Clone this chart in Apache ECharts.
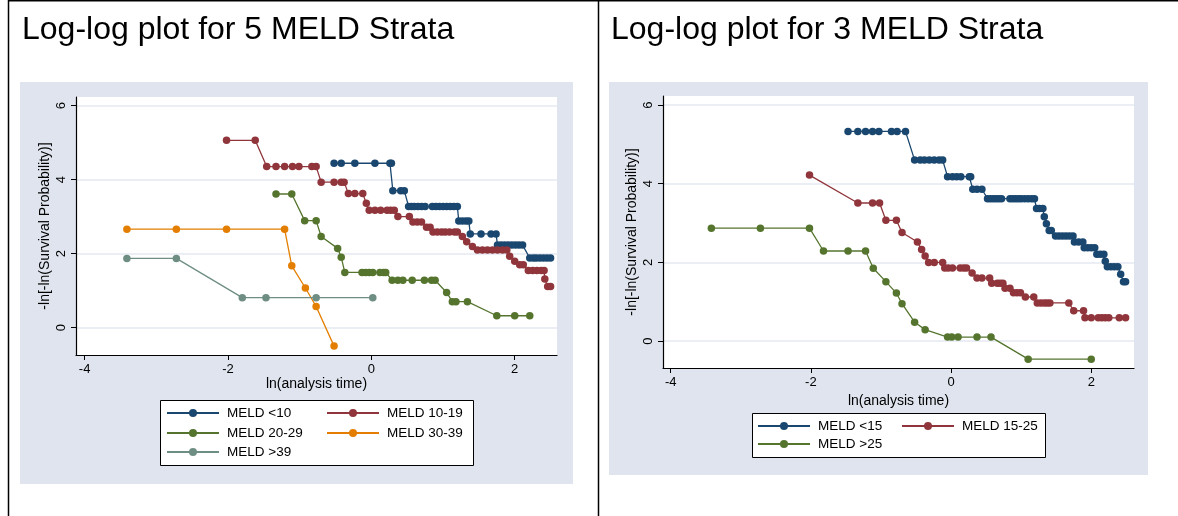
<!DOCTYPE html>
<html>
<head>
<meta charset="utf-8">
<script src="https://cdn.jsdelivr.net/npm/echarts@6/dist/echarts.min.js"></script>
<style>
html,body{margin:0;padding:0;background:#fff;}
#chart{width:1178px;height:516px;}
</style>
</head>
<body>
<div id="chart"></div>
<script>
// ---------- data ----------
const titles = ["Log-log plot for 5 MELD Strata", "Log-log plot for 3 MELD Strata"];
const xAxisName = "ln(analysis time)";
const yAxisName = "-ln[-ln(Survival Probability)]";
const xTicks = [-4, -2, 0, 2];
const yTicks = [0, 2, 4, 6];

const leftNames = ["MELD <10", "MELD 10-19", "MELD 20-29", "MELD 30-39", "MELD >39"];
const rightNames = ["MELD <15", "MELD 15-25", "MELD >25"];

// Left panel: [ln(t), -ln(-ln S)]
const left_lt10 = [[-0.52,4.44],[-0.42,4.44],[-0.23,4.44],[0.05,4.44],[0.26,4.44],[0.28,4.44],
  [0.30,3.70],[0.41,3.70],[0.46,3.70],
  [0.52,3.27],[0.56,3.27],[0.60,3.27],[0.65,3.27],[0.70,3.27],[0.75,3.27],[0.85,3.27],[0.90,3.27],[0.95,3.27],[1.00,3.27],[1.05,3.27],[1.10,3.27],[1.15,3.27],[1.20,3.27],
  [1.22,2.88],[1.27,2.88],[1.32,2.88],[1.36,2.88],
  [1.38,2.53],[1.53,2.53],[1.67,2.53],[1.74,2.53],
  [1.76,2.23],[1.81,2.23],[1.86,2.23],[1.91,2.23],[1.96,2.23],[2.01,2.23],[2.06,2.23],[2.11,2.23],
  [2.21,1.88],[2.26,1.88],[2.30,1.88],[2.35,1.88],[2.40,1.88],[2.45,1.88],[2.50,1.88]];
const left_10_19 = [[-2.02,5.06],[-1.62,5.06],
  [-1.46,4.35],[-1.33,4.35],[-1.21,4.35],[-1.10,4.35],[-1.01,4.35],[-0.83,4.35],[-0.77,4.35],
  [-0.70,3.93],[-0.52,3.93],[-0.42,3.93],[-0.38,3.93],
  [-0.32,3.62],[-0.23,3.62],[-0.12,3.62],
  [-0.07,3.36],
  [-0.03,3.17],[0.05,3.17],[0.13,3.17],[0.22,3.17],[0.27,3.17],[0.32,3.17],
  [0.37,3.00],[0.53,3.00],
  [0.58,2.85],[0.64,2.85],[0.70,2.85],
  [0.77,2.71],[0.82,2.71],
  [0.86,2.58],[0.92,2.58],[0.98,2.58],[1.03,2.58],[1.09,2.58],[1.16,2.58],[1.20,2.58],
  [1.27,2.46],[1.33,2.32],[1.41,2.19],
  [1.48,2.10],[1.55,2.10],[1.62,2.10],[1.69,2.10],[1.76,2.10],[1.83,2.10],[1.89,2.10],
  [1.93,1.93],[2.00,1.79],[2.07,1.70],[2.12,1.70],
  [2.19,1.54],[2.25,1.54],[2.31,1.54],[2.37,1.54],[2.41,1.54],
  [2.42,1.31],[2.46,1.11],[2.50,1.11]];
const left_20_29 = [[-1.33,3.61],[-1.11,3.61],[-0.93,2.89],[-0.77,2.89],[-0.70,2.46],[-0.47,2.14],[-0.42,1.90],[-0.37,1.49],
  [-0.13,1.49],[-0.08,1.49],[-0.03,1.49],[0.02,1.49],[0.12,1.49],[0.17,1.49],[0.20,1.49],
  [0.29,1.28],[0.37,1.28],[0.44,1.28],[0.57,1.28],[0.74,1.28],[0.84,1.28],[0.89,1.28],
  [1.05,0.95],[1.13,0.70],[1.18,0.70],[1.34,0.70],[1.75,0.32],[2.00,0.32],[2.21,0.32]];
const left_30_39 = [[-3.41,2.66],[-2.72,2.66],[-2.02,2.66],[-1.21,2.66],[-1.11,1.67],[-0.92,1.07],[-0.77,0.57],[-0.52,-0.50]];
const left_gt39 = [[-3.41,1.87],[-2.72,1.87],[-1.80,0.81],[-1.47,0.81],[-0.77,0.81],[0.02,0.81]];

// Right panel
const right_lt15 = [[-1.47,5.33],[-1.33,5.33],[-1.22,5.33],[-1.12,5.33],[-1.03,5.33],[-0.85,5.33],[-0.77,5.33],[-0.65,5.33],
  [-0.52,4.60],[-0.44,4.60],[-0.38,4.60],[-0.31,4.60],[-0.24,4.60],[-0.17,4.60],[-0.12,4.60],
  [-0.05,4.18],[0.02,4.18],[0.08,4.18],[0.14,4.18],[0.26,4.18],[0.28,4.18],
  [0.31,3.86],[0.37,3.86],[0.44,3.86],
  [0.52,3.62],[0.56,3.62],[0.60,3.62],[0.64,3.62],[0.68,3.62],[0.72,3.62],[0.84,3.62],[0.88,3.62],[0.92,3.62],[0.96,3.62],[1.00,3.62],[1.05,3.62],[1.10,3.62],[1.15,3.62],[1.19,3.62],
  [1.22,3.37],[1.26,3.37],[1.31,3.37],
  [1.33,3.16],[1.36,2.98],[1.40,2.81],[1.43,2.81],
  [1.49,2.67],[1.54,2.67],[1.59,2.67],[1.64,2.67],[1.69,2.67],[1.74,2.67],
  [1.76,2.52],[1.82,2.52],[1.88,2.52],
  [1.90,2.37],[1.95,2.37],[2.00,2.37],[2.05,2.37],
  [2.08,2.21],[2.13,2.21],[2.18,2.21],
  [2.20,2.03],
  [2.23,1.89],[2.28,1.89],[2.33,1.89],[2.38,1.89],
  [2.42,1.70],[2.46,1.51],[2.49,1.51]];
const right_15_25 = [[-2.02,4.22],[-1.33,3.51],[-1.12,3.51],[-1.02,3.51],[-0.93,3.07],[-0.78,3.07],[-0.70,2.76],[-0.48,2.52],[-0.42,2.33],[-0.37,2.16],
  [-0.32,2.00],[-0.24,2.00],[-0.12,2.00],[-0.09,1.86],[-0.04,1.86],[0.02,1.86],[0.13,1.86],[0.18,1.86],[0.22,1.86],
  [0.30,1.73],[0.37,1.60],[0.44,1.60],[0.55,1.60],[0.58,1.47],[0.66,1.47],[0.70,1.47],[0.74,1.47],
  [0.77,1.34],[0.84,1.34],[0.89,1.23],[0.94,1.23],[0.99,1.23],[1.06,1.12],[1.18,1.12],
  [1.23,0.97],[1.28,0.97],[1.33,0.97],[1.37,0.97],[1.41,0.97],[1.68,0.97],
  [1.75,0.77],[1.89,0.77],[1.91,0.59],[2.00,0.59],[2.10,0.59],[2.15,0.59],[2.20,0.59],[2.25,0.59],[2.40,0.59],[2.49,0.59]];
const right_gt25 = [[-3.42,2.87],[-2.72,2.87],[-2.02,2.87],[-1.82,2.29],[-1.47,2.29],[-1.22,2.29],[-1.11,1.85],[-0.93,1.51],[-0.78,1.22],[-0.70,0.95],
  [-0.52,0.48],[-0.37,0.29],[-0.05,0.10],[0.01,0.10],[0.10,0.10],[0.37,0.10],[0.57,0.10],[1.10,-0.46],[2.00,-0.46]];

const leftData = [left_lt10, left_10_19, left_20_29, left_30_39, left_gt39];
const rightData = [right_lt15, right_15_25, right_gt25];
const leftColors = ["#1a476f", "#90353b", "#55752f", "#e37e00", "#6e8e84"];
const rightColors = ["#1a476f", "#90353b", "#55752f"];

// ---------- chart ----------
const FONT = "'Liberation Sans', Arial, Helvetica, sans-serif";
const chart = echarts.init(document.getElementById('chart'), null, {renderer: 'canvas'});

function xAxisCfg(gridIndex, min, max) {
  return {
    type: 'value', gridIndex, min, max, position: 'bottom',
    name: xAxisName, nameLocation: 'middle', nameGap: 22,
    nameTextStyle: {color: '#000', fontSize: 14, fontFamily: FONT},
    axisLine: {show: true, onZero: false, lineStyle: {color: '#000', width: 1.2}},
    axisTick: {show: true, length: 5, customValues: xTicks, lineStyle: {color: '#000', width: 1}},
    axisLabel: {customValues: xTicks, color: '#000', fontSize: 13, fontFamily: FONT, margin: 8},
    splitLine: {show: false}
  };
}
function yAxisCfg(gridIndex, min, max) {
  return {
    type: 'value', gridIndex, min, max, position: 'left',
    name: yAxisName, nameLocation: 'middle', nameGap: 24, nameRotate: 90,
    nameTextStyle: {color: '#000', fontSize: 14, fontFamily: FONT},
    axisLine: {show: true, onZero: false, lineStyle: {color: '#000', width: 1.2}},
    axisTick: {show: true, length: 5, customValues: yTicks, lineStyle: {color: '#000', width: 1}},
    axisLabel: {customValues: yTicks, rotate: 90, color: '#000', fontSize: 13, fontFamily: FONT, margin: 8},
    splitLine: {show: true, lineStyle: {color: '#e4e8f1', width: 1.6}}
  };
}

const series = [];
leftNames.forEach((n, i) => series.push({
  name: n, type: 'line', xAxisIndex: 0, yAxisIndex: 0, data: leftData[i],
  symbol: 'circle', symbolSize: 7.5, showSymbol: true,
  itemStyle: {color: leftColors[i]}, lineStyle: {color: leftColors[i], width: 1.3},
  emphasis: {disabled: true}, z: 3
}));
rightNames.forEach((n, i) => series.push({
  name: n, type: 'line', xAxisIndex: 1, yAxisIndex: 1, data: rightData[i],
  symbol: 'circle', symbolSize: 7.5, showSymbol: true,
  itemStyle: {color: rightColors[i]}, lineStyle: {color: rightColors[i], width: 1.3},
  emphasis: {disabled: true}, z: 3
}));

function legendItem(name, left, cy) {
  return {
    data: [name], left, top: cy - 7, padding: 0, itemWidth: 52, itemHeight: 10,
    textStyle: {color: '#000', fontSize: 13.5, fontFamily: FONT, padding: [0, 0, 0, 3]},
    selectedMode: false
  };
}
const legends = [
  legendItem(leftNames[0], 166, 413), legendItem(leftNames[1], 326, 413),
  legendItem(leftNames[2], 166, 433), legendItem(leftNames[3], 326, 433),
  legendItem(leftNames[4], 166, 452),
  legendItem(rightNames[0], 757, 426), legendItem(rightNames[1], 901, 426),
  legendItem(rightNames[2], 757, 444)
];

const titleStyle = {fontSize: 32, fontWeight: 'normal', color: '#000', fontFamily: FONT};
const option = {
  animation: false,
  backgroundColor: '#fff',
  title: [
    {text: titles[0], left: 22, top: 14, padding: 0, textStyle: titleStyle},
    {text: titles[1], left: 611, top: 14, padding: 0, textStyle: titleStyle}
  ],
  grid: [
    {left: 76, top: 97, width: 481, height: 258, show: true, backgroundColor: '#fff', borderWidth: 0, containLabel: false},
    {left: 663, top: 96, width: 471, height: 272, show: true, backgroundColor: '#fff', borderWidth: 0, containLabel: false}
  ],
  xAxis: [xAxisCfg(0, -4.12, 2.59), xAxisCfg(1, -4.11, 2.61)],
  yAxis: [yAxisCfg(0, -0.74, 6.23), yAxisCfg(1, -0.685, 6.23)],
  legend: legends,
  series,
  graphic: [
    {type: 'rect', z: -1, shape: {x: 20, y: 82, width: 553, height: 402}, style: {fill: '#dfe4ee'}},
    {type: 'rect', z: -1, shape: {x: 609, y: 82, width: 539, height: 393}, style: {fill: '#dfe4ee'}},
    {type: 'rect', z: 1, shape: {x: 160.5, y: 400.5, width: 313, height: 65}, style: {fill: '#fff', stroke: '#000', lineWidth: 1}},
    {type: 'rect', z: 1, shape: {x: 752.5, y: 413.5, width: 293, height: 44}, style: {fill: '#fff', stroke: '#000', lineWidth: 1}},
    {type: 'line', z: 1, shape: {x1: 8, y1: 0.75, x2: 1178, y2: 0.75}, style: {stroke: '#000', lineWidth: 1.5}},
    {type: 'line', z: 1, shape: {x1: 8.5, y1: 0, x2: 8.5, y2: 516}, style: {stroke: '#000', lineWidth: 1.5}},
    {type: 'line', z: 1, shape: {x1: 598.5, y1: 0, x2: 598.5, y2: 516}, style: {stroke: '#000', lineWidth: 1.5}}
  ]
};
chart.setOption(option);
</script>
</body>
</html>
